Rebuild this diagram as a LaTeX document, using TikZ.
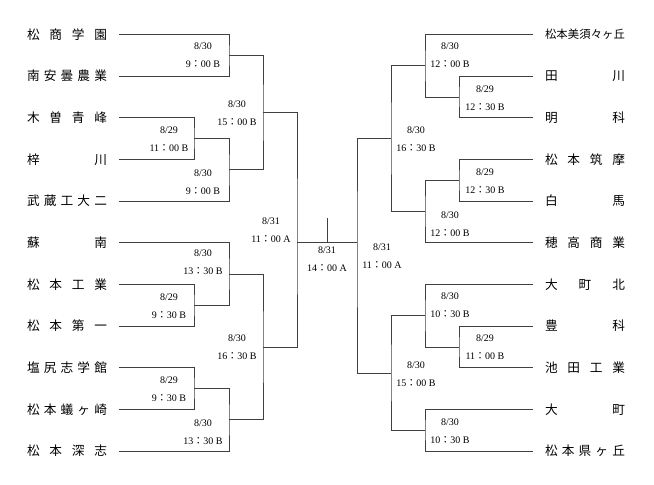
\documentclass[tikz,border=0pt]{standalone}
\usepackage{fontspec}
\setmainfont{Liberation Serif}
\newfontfamily\cjk{Noto Sans CJK JP}
\usepackage{tikz}
\tikzstyle{team}=[font=\cjk\fontsize{9.5}{11}\selectfont, inner sep=0pt,
  outer xsep=9pt, minimum height=12pt]
\tikzstyle{longteam}=[team, font=\cjk\fontsize{8.5}{11}\selectfont]
\tikzstyle{game}=[font=\fontsize{7.5}{9}\selectfont, inner sep=0pt]
\tikzstyle{line}=[draw, line width=0.6pt, black!75]
% spread the letters of a school name over a fixed width
\newcommand{\spreadtext}[1]{\makebox[60pt][s]{\spreadnext#1\spreadstop}}
\def\spreadstop{}
\def\spreadnext#1#2{#1\ifx\spreadstop#2\else\hfill
  \expandafter\spreadnext\expandafter#2\fi}
\newcommand{\zc}{{\cjk ：}}
\newcommand{\team}[2]{node (#1) [team] {\spreadtext{#2}}}
\newcommand{\longteam}[2]{node (#1) [longteam] {\spreadtext{#2}}}
\newcommand{\game}[5]{node (#1d) [game] at (#2,#3) {#4}
  node (#1t) [game] at (#2,#3+18) {#5}}

\begin{document}
\begin{tikzpicture}[x=0.75pt,y=-0.75pt]
    \useasboundingbox (0,0) rectangle (654,485);

    % Schools, left side
    \path (67,34.5)  \team{l1}{松商学園};
    \path (67,76.2)  \team{l2}{南安曇農業};
    \path (67,117.8) \team{l3}{木曽青峰};
    \path (67,159.5) \team{l4}{梓川};
    \path (67,201.1) \team{l5}{武蔵工大二};
    \path (67,242.8) \team{l6}{蘇南};
    \path (67,284.4) \team{l7}{松本工業};
    \path (67,326.1) \team{l8}{松本第一};
    \path (67,367.7) \team{l9}{塩尻志学館};
    \path (67,409.4) \team{l10}{松本蟻ヶ崎};
    \path (67,451)   \team{l11}{松本深志};
    % Schools, right side
    \path (585,34.5)  \longteam{r1}{松本美須々ヶ丘};
    \path (585,76.2)  \team{r2}{田川};
    \path (585,117.8) \team{r3}{明科};
    \path (585,159.5) \team{r4}{松本筑摩};
    \path (585,201.1) \team{r5}{白馬};
    \path (585,242.8) \team{r6}{穂高商業};
    \path (585,284.4) \team{r7}{大町北};
    \path (585,326.1) \team{r8}{豊科};
    \path (585,367.7) \team{r9}{池田工業};
    \path (585,409.4) \team{r10}{大町};
    \path (585,451)   \team{r11}{松本県ヶ丘};

    % Junctions
    \coordinate (L1) at (229,55.35);
    \coordinate (L2) at (194,138.65);
    \coordinate (L3) at (229,169.9);
    \coordinate (L4) at (263,112.6);
    \coordinate (L5) at (194,305.25);
    \coordinate (L6) at (229,274);
    \coordinate (L7) at (194,388.55);
    \coordinate (L8) at (229,419.8);
    \coordinate (L9) at (263,346.9);
    \coordinate (L10) at (297,242.8);
    \coordinate (R1) at (459,97);
    \coordinate (R2) at (425,65.75);
    \coordinate (R3) at (459,180.3);
    \coordinate (R4) at (425,211.55);
    \coordinate (R5) at (391,138.65);
    \coordinate (R6) at (459,346.9);
    \coordinate (R7) at (425,315.65);
    \coordinate (R8) at (425,430.2);
    \coordinate (R9) at (391,372.9);
    \coordinate (R10) at (357,242.8);
    \coordinate (top) at (327,218);

    % Draw the bracket
    \path [line] (l1.east) -| (L1) |- (l2.east);
    \path [line] (l3.east) -| (L2) |- (l4.east);
    \path [line] (L2) -| (L3) |- (l5.east);
    \path [line] (L1) -| (L4) |- (L3);
    \path [line] (l7.east) -| (L5) |- (l8.east);
    \path [line] (l6.east) -| (L6) |- (L5);
    \path [line] (l9.east) -| (L7) |- (l10.east);
    \path [line] (L7) -| (L8) |- (l11.east);
    \path [line] (L6) -| (L9) |- (L8);
    \path [line] (L4) -| (L10) |- (L9);
    \path [line] (r2.west) -| (R1) |- (r3.west);
    \path [line] (r1.west) -| (R2) |- (R1);
    \path [line] (r4.west) -| (R3) |- (r5.west);
    \path [line] (R3) -| (R4) |- (r6.west);
    \path [line] (R2) -| (R5) |- (R4);
    \path [line] (r8.west) -| (R6) |- (r9.west);
    \path [line] (r7.west) -| (R7) |- (R6);
    \path [line] (r10.west) -| (R8) |- (r11.west);
    \path [line] (R7) -| (R9) |- (R8);
    \path [line] (R5) -| (R10) |- (R9);
    \path [line] (L10) -- (R10);
    \path [line] (top) -- (top |- L10);

    % Dates and times
    \path \game{g1}{203}{46}{8/30}{9\zc00 B};
    \path \game{g2}{169}{130}{8/29}{11\zc00 B};
    \path \game{g3}{203}{173}{8/30}{9\zc00 B};
    \path \game{g4}{237}{104}{8/30}{15\zc00 B};
    \path \game{g5}{169}{297}{8/29}{9\zc30 B};
    \path \game{g6}{203}{253}{8/30}{13\zc30 B};
    \path \game{g7}{169}{380}{8/29}{9\zc30 B};
    \path \game{g8}{203}{423}{8/30}{13\zc30 B};
    \path \game{g9}{237}{338}{8/30}{16\zc30 B};
    \path \game{g10}{271}{221}{8/31}{11\zc00 A};
    \path \game{g11}{485}{89}{8/29}{12\zc30 B};
    \path \game{g12}{450}{46}{8/30}{12\zc00 B};
    \path \game{g13}{485}{172}{8/29}{12\zc30 B};
    \path \game{g14}{450}{215}{8/30}{12\zc00 B};
    \path \game{g15}{416}{130}{8/30}{16\zc30 B};
    \path \game{g16}{485}{338}{8/29}{11\zc00 B};
    \path \game{g17}{450}{296}{8/30}{10\zc30 B};
    \path \game{g18}{450}{422}{8/30}{10\zc30 B};
    \path \game{g19}{416}{365}{8/30}{15\zc00 B};
    \path \game{g20}{382}{247}{8/31}{11\zc00 A};
    \path \game{g21}{327}{250}{8/31}{14\zc00 A};

  \end{tikzpicture}
\end{document}
